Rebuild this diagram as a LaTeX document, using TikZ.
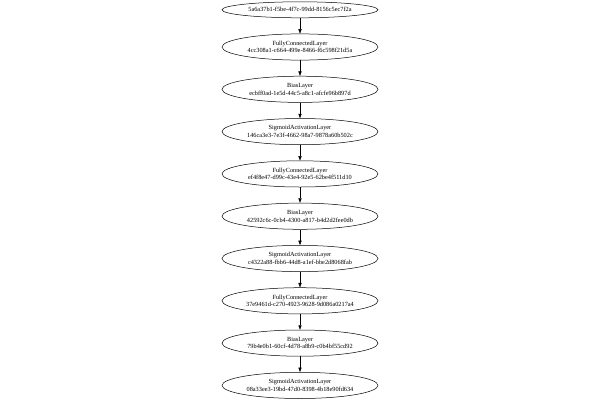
\documentclass[tikz,border=0pt]{standalone}
\usepackage{fontspec}
\setmainfont{Liberation Serif}
\usepackage{tikz}
\usetikzlibrary{shapes.geometric,arrows.meta,positioning}

\begin{document}
\begin{tikzpicture}[->,>={Triangle[length=4.5pt,width=3.2pt]},node distance=42.3pt,on grid,line width=0.5pt,
    layer/.style={ellipse,draw,minimum width=156pt,minimum height=26.2pt,inner sep=0pt,align=center,
      font=\fontsize{6.3}{7.6}\selectfont},
    single/.style={layer,minimum height=16pt}]
   \path[fill=white] (-300pt,9.8pt) rectangle (300pt,-390.2pt);
   \useasboundingbox (-300pt,9.8pt) rectangle (300pt,-390.2pt);
   \node[single] (I) {5a6a37b1-f5be-4f7c-99dd-8156c5ec7f2a};
   \node[layer] (F1) [below=37.2pt of I] {FullyConnectedLayer\\4cc308a1-c664-499e-8466-f6c598f21d5a};
   \node[layer] (B1) [below=of F1] {BiasLayer\\ecbff0ad-1e5d-44c5-a8c1-afcfe96b897d};
   \node[layer] (S1) [below=of B1] {SigmoidActivationLayer\\146ca3e3-7e3f-4662-98a7-9878a60b502c};
   \node[layer] (F2) [below=of S1] {FullyConnectedLayer\\ef4f8e47-d99c-43e4-92e5-62be4f511d10};
   \node[layer] (B2) [below=of F2] {BiasLayer\\42592c6c-0cb4-4300-a817-b4d2d2fee0db};
   \node[layer] (S2) [below=of B2] {SigmoidActivationLayer\\c4322a88-fbb6-44d8-a1ef-bbe2d8068fab};
   \node[layer] (F3) [below=of S2] {FullyConnectedLayer\\37e9461d-c270-4923-9628-9d086a0217a4};
   \node[layer] (B3) [below=of F3] {BiasLayer\\79b4e0b1-60cf-4d78-a8b9-c0b4bf55cd92};
   \node[layer] (S3) [below=of B3] {SigmoidActivationLayer\\08a33ee3-19bd-47d0-8398-4b18e90fd634};
    \path
    (I) edge (F1)
    (F1) edge (B1)
    (B1) edge (S1)
    (S1) edge (F2)
    (F2) edge (B2)
    (B2) edge (S2)
    (S2) edge (F3)
    (F3) edge (B3)
    (B3) edge (S3);
\end{tikzpicture}
\end{document}
